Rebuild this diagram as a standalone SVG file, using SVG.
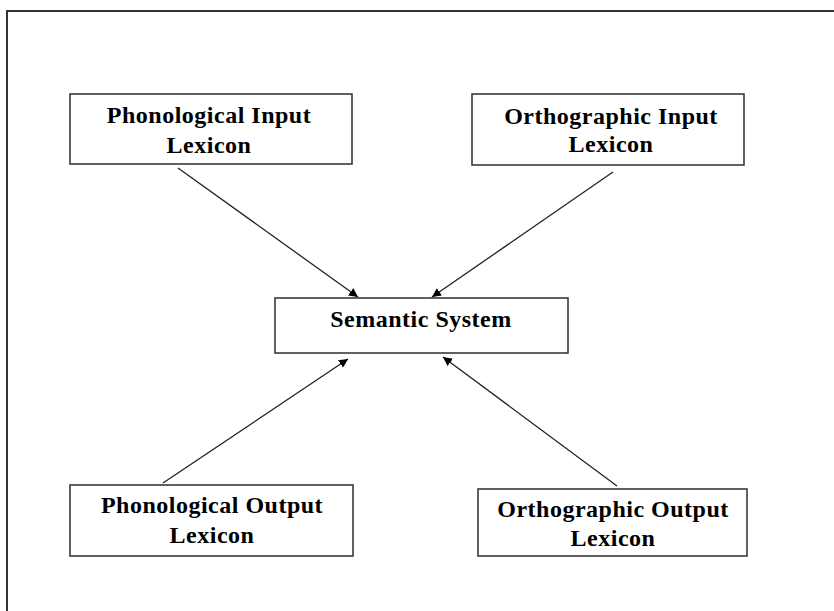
<svg xmlns="http://www.w3.org/2000/svg" width="834" height="611" viewBox="0 0 834 611">
<defs>
<marker id="ah" viewBox="0 0 10 10" refX="10" refY="5" markerWidth="9" markerHeight="9" orient="auto" markerUnits="userSpaceOnUse">
<path d="M0,0 L10,5 L0,10 z" fill="#000"/>
</marker>
<style>
.box{fill:#fff;stroke:#3a3a3a;stroke-width:1.6}
.t{font-family:"Liberation Serif","Times New Roman",serif;font-weight:bold;font-size:24px;letter-spacing:0.5px;fill:#000;text-anchor:middle}
.c{stroke:#222;stroke-width:1.3;fill:none;marker-end:url(#ah)}
</style>
</defs>
<rect x="0" y="0" width="834" height="611" fill="#fff"/>
<path d="M7,611 V11 H834" fill="none" stroke="#333" stroke-width="2"/>
<g id="n1">
<rect class="box" x="70" y="94" width="282" height="70"/>
<text class="t" x="209" y="123">Phonological Input</text>
<text class="t" x="209" y="153">Lexicon</text>
</g>
<g id="n2">
<rect class="box" x="472" y="94" width="272" height="71"/>
<text class="t" x="611" y="124">Orthographic Input</text>
<text class="t" x="611" y="152">Lexicon</text>
</g>
<g id="n3">
<rect class="box" x="275" y="298" width="293" height="55"/>
<text class="t" x="421" y="327">Semantic System</text>
</g>
<g id="n4">
<rect class="box" x="70" y="485" width="283" height="71"/>
<text class="t" x="212" y="513">Phonological Output</text>
<text class="t" x="212" y="543">Lexicon</text>
</g>
<g id="n5">
<rect class="box" x="478" y="489" width="269" height="67"/>
<text class="t" x="613" y="517">Orthographic Output</text>
<text class="t" x="613" y="546">Lexicon</text>
</g>
<g id="connectors">
<line class="c" x1="178" y1="168" x2="358" y2="297"/>
<line class="c" x1="613" y1="172" x2="432" y2="297"/>
<line class="c" x1="163" y1="483" x2="348" y2="359"/>
<line class="c" x1="617" y1="486" x2="443" y2="357"/>
</g>
</svg>
